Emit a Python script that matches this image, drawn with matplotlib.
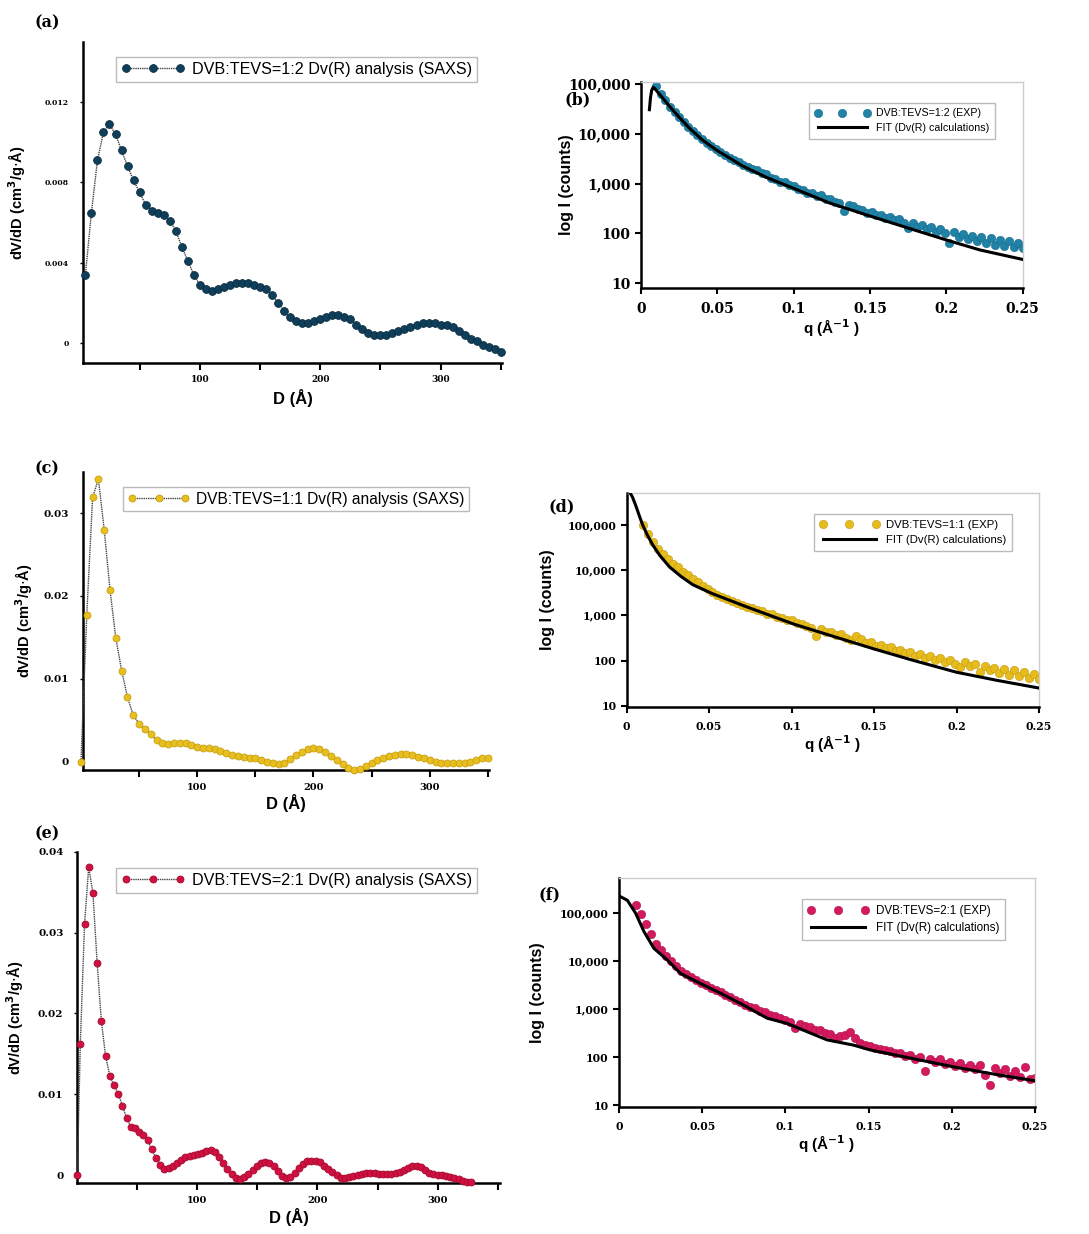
import numpy as np
import matplotlib
matplotlib.use("Agg")
import matplotlib.pyplot as plt
from matplotlib.ticker import FixedLocator, FuncFormatter

# ---------------- data ----------------
# (a) DVB:TEVS = 1:2 pore size distribution
D_a = [5, 10, 15, 20, 25, 30, 35, 40, 45, 50, 55, 60, 65, 70, 75, 80, 85, 90, 95, 100,
       105, 110, 115, 120, 125, 130, 135, 140, 145, 150, 155, 160, 165, 170, 175, 180,
       185, 190, 195, 200, 205, 210, 215, 220, 225, 230, 235, 240, 245, 250, 255, 260,
       265, 270, 275, 280, 285, 290, 295, 300, 305, 310, 315, 320, 325, 330, 335, 340,
       345, 350]
dv_a = [0.0034, 0.0065, 0.0091, 0.0105, 0.0109, 0.0104, 0.0096, 0.0088, 0.0081, 0.0075,
        0.0069, 0.0066, 0.0065, 0.0064, 0.0061, 0.0056, 0.0048, 0.0041, 0.0034, 0.0029,
        0.0027, 0.0026, 0.0027, 0.0028, 0.0029, 0.0030, 0.0030, 0.0030, 0.0029, 0.0028,
        0.0027, 0.0024, 0.0020, 0.0016, 0.0013, 0.0011, 0.0010, 0.0010, 0.0011, 0.0012,
        0.0013, 0.0014, 0.0014, 0.0013, 0.0012, 0.0009, 0.0007, 0.0005, 0.0004, 0.0004,
        0.0004, 0.0005, 0.0006, 0.0007, 0.0008, 0.0009, 0.0010, 0.0010, 0.0010, 0.0009,
        0.0009, 0.0008, 0.0006, 0.0004, 0.0002, 0.0001, -0.0001, -0.0002, -0.0003, -0.00045]

# (c) DVB:TEVS = 1:1
D_c = [0, 5, 10, 15, 20, 25, 30, 35, 40, 45, 50, 55, 60, 65, 70, 75, 80, 85, 90, 95, 100,
       105, 110, 115, 120, 125, 130, 135, 140, 145, 150, 155, 160, 165, 170, 175, 180,
       185, 190, 195, 200, 205, 210, 215, 220, 225, 230, 235, 240, 245, 250, 255, 260,
       265, 270, 275, 280, 285, 290, 295, 300, 305, 310, 315, 320, 325, 330, 335, 340,
       345, 350]
dv_c = [0.0, 0.0177, 0.0319, 0.0341, 0.0280, 0.0207, 0.0149, 0.0110, 0.0078, 0.0056,
        0.0046, 0.0040, 0.0033, 0.0026, 0.0022, 0.0021, 0.0022, 0.0023, 0.0022, 0.0020,
        0.0018, 0.0016, 0.0016, 0.0015, 0.0013, 0.0011, 0.0008, 0.0007, 0.0006, 0.0005,
        0.0004, 0.0002, 0.0000, -0.0002, -0.0003, -0.0002, 0.0003, 0.0008, 0.0012, 0.0015,
        0.0016, 0.0015, 0.0012, 0.0007, 0.0002, -0.0003, -0.0008, -0.0010, -0.0009, -0.0005,
        -0.0001, 0.0002, 0.0005, 0.0007, 0.0008, 0.0009, 0.0009, 0.0008, 0.0006, 0.0004,
        0.0002, 0.0000, -0.0001, -0.0002, -0.0002, -0.0002, -0.0001, 0.0000, 0.0002, 0.0004,
        0.0005]

# (e) DVB:TEVS = 2:1
D_e = [0, 2.5, 6, 9.5, 13, 16.5, 20, 23.5, 27, 30.5, 34, 37.5, 41, 44.5, 48, 51.5, 55,
       58.5, 62, 65.5, 69, 72.5, 76, 79.5, 83, 86.5, 90, 93.5, 97, 100.5, 104, 107.5, 111,
       114.5, 118, 121.5, 125, 128.5, 132, 135.5, 139, 142.5, 146, 149.5, 153, 156.5, 160,
       163.5, 167, 170.5, 174, 177.5, 181, 184.5, 188, 191.5, 195, 198.5, 202, 205.5, 209,
       212.5, 216, 219.5, 223, 226.5, 230, 233.5, 237, 240.5, 244, 247.5, 251, 254.5, 258,
       261.5, 265, 268.5, 272, 275.5, 279, 282.5, 286, 289.5, 293, 296.5, 300, 303.5, 307,
       310.5, 314, 317.5, 321, 324.5, 328]
dv_e = [0.0, 0.0162, 0.0310, 0.0381, 0.0349, 0.0263, 0.0191, 0.0148, 0.0123, 0.0111,
        0.0101, 0.0086, 0.0071, 0.0060, 0.0058, 0.0053, 0.0050, 0.0043, 0.0032, 0.0021,
        0.0013, 0.0008, 0.0009, 0.0012, 0.0015, 0.0019, 0.0022, 0.0024, 0.0025, 0.0026,
        0.0028, 0.0030, 0.0031, 0.0029, 0.0022, 0.0015, 0.0008, 0.0001, -0.0004, -0.0005,
        -0.0002, 0.0002, 0.0007, 0.0012, 0.0015, 0.0016, 0.0015, 0.0011, 0.0005, -0.0001,
        -0.0004, -0.0002, 0.0003, 0.0009, 0.0014, 0.0017, 0.0018, 0.0018, 0.0016, 0.0012,
        0.0008, 0.0004, 0.0000, -0.0003, -0.0003, -0.0002, -0.0001, 0.0000, 0.0002, 0.0003,
        0.0003, 0.0003, 0.0002, 0.0002, 0.0002, 0.0002, 0.0003, 0.0004, 0.0006, 0.0009,
        0.0012, 0.0012, 0.0010, 0.0006, 0.0003, 0.0001, 0.0000, 0.0000, -0.0001, -0.0002,
        -0.0003, -0.0005, -0.0007, -0.0008, -0.0008]

# SAXS curves, q grid of the experimental points (1/A)
q_exp = [0.010, 0.013, 0.016, 0.019, 0.022, 0.025, 0.028, 0.031, 0.034, 0.037, 0.040,
         0.043, 0.046, 0.049, 0.052, 0.055, 0.058, 0.061, 0.064, 0.067, 0.070, 0.073,
         0.076, 0.079, 0.082, 0.085, 0.088, 0.091, 0.094, 0.097, 0.100, 0.103, 0.106,
         0.109, 0.112, 0.115, 0.118, 0.121, 0.124, 0.127, 0.130, 0.133, 0.136, 0.139,
         0.142, 0.145, 0.148, 0.151, 0.154, 0.157, 0.160, 0.163, 0.166, 0.169, 0.172,
         0.175, 0.178, 0.181, 0.184, 0.187, 0.190, 0.193, 0.196, 0.199, 0.202, 0.205,
         0.208, 0.211, 0.214, 0.217, 0.220, 0.223, 0.226, 0.229, 0.232, 0.235, 0.238,
         0.241, 0.244, 0.247, 0.250]

# log10 of intensity (counts)
logI_b = [4.95, 4.80, 4.67, 4.54, 4.43, 4.33, 4.23, 4.14, 4.05, 3.97, 3.90, 3.82, 3.76,
          3.70, 3.63, 3.58, 3.51, 3.47, 3.43, 3.37, 3.34, 3.30, 3.27, 3.21, 3.19, 3.12,
          3.10, 3.04, 3.03, 2.98, 2.95, 2.89, 2.88, 2.82, 2.82, 2.75, 2.77, 2.70, 2.69,
          2.64, 2.62, 2.46, 2.58, 2.56, 2.49, 2.47, 2.42, 2.44, 2.37, 2.38, 2.31, 2.33,
          2.27, 2.29, 2.22, 2.10, 2.21, 2.14, 2.18, 2.09, 2.13, 2.03, 2.08, 2.00, 1.80,
          2.03, 1.92, 1.98, 1.88, 1.95, 1.84, 1.92, 1.80, 1.90, 1.77, 1.86, 1.74, 1.84,
          1.72, 1.80, 1.70]
logI_d = [5.00, 4.80, 4.63, 4.47, 4.35, 4.24, 4.14, 4.06, 3.97, 3.90, 3.80, 3.73, 3.65,
          3.58, 3.52, 3.46, 3.41, 3.36, 3.32, 3.27, 3.24, 3.19, 3.16, 3.11, 3.09, 3.04,
          3.02, 2.96, 2.95, 2.89, 2.89, 2.82, 2.81, 2.76, 2.71, 2.55, 2.69, 2.63, 2.64,
          2.57, 2.58, 2.50, 2.46, 2.55, 2.47, 2.38, 2.40, 2.33, 2.34, 2.27, 2.29, 2.22,
          2.24, 2.16, 2.19, 2.11, 2.14, 2.06, 2.10, 2.01, 2.06, 1.97, 2.02, 1.92, 1.86,
          1.97, 1.88, 1.92, 1.75, 1.87, 1.80, 1.84, 1.73, 1.82, 1.68, 1.78, 1.65, 1.74,
          1.62, 1.70, 1.58]
logI_f = [5.16, 4.98, 4.76, 4.55, 4.35, 4.22, 4.10, 3.99, 3.90, 3.80, 3.73, 3.66, 3.60,
          3.55, 3.49, 3.44, 3.40, 3.35, 3.30, 3.24, 3.19, 3.14, 3.09, 3.05, 3.02, 2.96,
          2.93, 2.88, 2.85, 2.82, 2.78, 2.74, 2.60, 2.68, 2.64, 2.62, 2.57, 2.56, 2.50,
          2.48, 2.40, 2.45, 2.46, 2.52, 2.40, 2.30, 2.25, 2.23, 2.19, 2.18, 2.14, 2.13,
          2.08, 2.09, 2.02, 2.04, 1.97, 2.00, 1.72, 1.96, 1.90, 1.97, 1.86, 1.90, 1.82,
          1.88, 1.78, 1.84, 1.75, 1.83, 1.64, 1.43, 1.78, 1.68, 1.75, 1.60, 1.72, 1.58,
          1.80, 1.55, 1.57]

# fits (Dv(R) calculations)
q_fit_b = [0.0055, 0.0062, 0.0070, 0.0080, 0.0092, 0.011, 0.013, 0.0186, 0.025, 0.0317,
           0.040, 0.049, 0.0667, 0.0825, 0.0995, 0.1236, 0.150, 0.178, 0.200, 0.222, 0.250]
logfit_b = [4.48, 4.72, 4.87, 4.93, 4.90, 4.83, 4.76, 4.55, 4.33, 4.11, 3.88, 3.68, 3.35,
            3.12, 2.91, 2.61, 2.35, 2.08, 1.87, 1.67, 1.48]
q_fit_d = [0.0, 0.0016, 0.0035, 0.0057, 0.0077, 0.0097, 0.0125, 0.0158, 0.020, 0.026,
           0.033, 0.040, 0.052, 0.0726, 0.101, 0.123, 0.1496, 0.174, 0.200, 0.2246, 0.250]
logfit_d = [5.72, 5.74, 5.62, 5.41, 5.20, 5.00, 4.78, 4.56, 4.33, 4.07, 3.86, 3.68, 3.48,
            3.19, 2.81, 2.56, 2.26, 2.00, 1.74, 1.56, 1.39]
q_fit_f = [0.0, 0.005, 0.010, 0.015, 0.021, 0.029, 0.037, 0.049, 0.061, 0.075, 0.089,
           0.101, 0.113, 0.125, 0.141, 0.151, 0.181, 0.201, 0.225, 0.250]
logfit_f = [5.35, 5.26, 4.99, 4.61, 4.26, 4.02, 3.74, 3.53, 3.33, 3.08, 2.81, 2.70, 2.53,
            2.36, 2.25, 2.15, 1.94, 1.80, 1.65, 1.51]

W, H = 1089, 1234
fig = plt.figure(figsize=(W / 100, H / 100), dpi=100)
plt.rcParams['font.family'] = ['Liberation Sans', 'DejaVu Sans']

tickfont = dict(family='DejaVu Serif', weight='bold')
labfont = dict(family='Liberation Sans', weight='bold')


def add_ax(l, r, t, b):
    return fig.add_axes([l / W, 1 - b / H, (r - l) / W, (b - t) / H])


def fig_box(l, t):
    return (l / W, 1 - t / H)


def style_dist(ax, xlim, ylim, yticks, ylabs, tsize_y, tsize_x):
    ax.set_xlim(*xlim)
    ax.set_ylim(*ylim)
    for s in ['top', 'right']:
        ax.spines[s].set_visible(False)
    for s in ['left', 'bottom']:
        ax.spines[s].set_linewidth(1.8)
    ax.xaxis.set_major_locator(FixedLocator([50, 100, 150, 200, 250, 300, 350]))
    ax.xaxis.set_major_formatter(FuncFormatter(
        lambda v, p: '%d' % v if v in (100, 200, 300) else ''))
    ax.set_yticks(yticks)
    ax.set_yticklabels(ylabs)
    ax.tick_params(axis='x', direction='out', length=5, width=1.5, pad=4)
    ax.tick_params(axis='y', direction='out', length=2, width=1, pad=8)
    for lab in ax.get_xticklabels():
        lab.set(**tickfont, size=tsize_x)
    for lab in ax.get_yticklabels():
        lab.set(**tickfont, size=tsize_y)


def style_saxs(ax, ylim, tsize):
    ax.set_xlim(0, 0.25)
    ax.set_yscale('log')
    ax.set_ylim(*ylim)
    ax.spines['top'].set_color('#cccccc')
    ax.spines['right'].set_color('#cccccc')
    ax.spines['top'].set_linewidth(1)
    ax.spines['right'].set_linewidth(1)
    ax.spines['left'].set_linewidth(1.8)
    ax.spines['bottom'].set_linewidth(1.8)
    ax.set_xticks([0, 0.05, 0.1, 0.15, 0.2, 0.25])
    ax.set_xticklabels(['0', '0.05', '0.1', '0.15', '0.2', '0.25'])
    ax.set_yticks([10, 100, 1000, 10000, 100000])
    ax.set_yticklabels(['10', '100', '1,000', '10,000', '100,000'])
    ax.yaxis.set_minor_locator(FixedLocator([]))
    ax.tick_params(axis='both', direction='out', length=4, width=1.5)
    ax.tick_params(axis='x', pad=6)
    for lab in ax.get_xticklabels() + ax.get_yticklabels():
        lab.set(**tickfont, size=tsize)


def dist_plot(ax, D, dv, col, edge, label, legpos, ms, fsize):
    ax.plot(D, dv, linestyle=(0, (1, 0.6)), color='#444444', lw=1.0, marker='o', ms=ms,
            mfc=col, mec=edge, mew=0.6, label=label, clip_on=False, zorder=3)
    leg = ax.legend(loc='upper left', bbox_to_anchor=fig_box(*legpos),
                    bbox_transform=fig.transFigure, frameon=True, fancybox=False,
                    numpoints=3, handlelength=4.0, borderpad=0.3, handletextpad=0.4,
                    borderaxespad=0, prop=dict(family='Liberation Sans', size=fsize))
    leg.get_frame().set_edgecolor('#aaaaaa')
    leg.get_frame().set_linewidth(1.0)


def saxs_plot(ax, logI, qf, logf, col, edge, exp_lab, legpos, fsize):
    ax.plot(q_exp, 10 ** np.array(logI), linestyle='none', marker='o', ms=6.0,
            mfc=col, mec=edge, mew=0.4, label=exp_lab, zorder=2)
    ax.plot(qf, 10 ** np.array(logf), color='black', lw=2.2,
            label='FIT (Dv(R) calculations)', zorder=3)
    leg = ax.legend(loc='upper left', bbox_to_anchor=fig_box(*legpos),
                    bbox_transform=fig.transFigure, frameon=True, fancybox=False,
                    numpoints=3, handlelength=5.2, borderpad=0.5, handletextpad=0.6,
                    labelspacing=0.45, borderaxespad=0,
                    prop=dict(family='Liberation Sans', size=fsize))
    leg.get_frame().set_edgecolor('#aaaaaa')
    leg.get_frame().set_linewidth(1.0)


dv_label = 'dV/dD (cm$^\\mathbf{3}$/g$\\cdot$Å)'
q_label = 'q (Å$^{\\mathbf{-1}}$ )'

# (a)
ax_a = add_ax(83, 502, 42, 363)
dist_plot(ax_a, D_a, dv_a, '#0f3f5a', '#0a2c40', 'DVB:TEVS=1:2 Dv(R) analysis (SAXS)',
          (116, 57), 5.6, 11.6)
style_dist(ax_a, (3, 351), (-0.001, 0.015), [0, 0.004, 0.008, 0.012],
           ['0', '0.004', '0.008', '0.012'], 5.5, 6.5)
ax_a.set_xlabel('D (Å)', fontsize=12, labelpad=3, **labfont)
ax_a.set_ylabel(dv_label, fontsize=10.5, **labfont)
ax_a.yaxis.set_label_coords(-0.132, 0.5)

# (c)
ax_c = add_ax(82.7, 489, 471.7, 770)
dist_plot(ax_c, D_c, dv_c, '#e8bf1e', '#c9a010', 'DVB:TEVS=1:1 Dv(R) analysis (SAXS)',
          (123, 487), 5.0, 11.2)
style_dist(ax_c, (1.5, 351), (-0.001, 0.035), [0, 0.01, 0.02, 0.03],
           ['0', '0.01', '0.02', '0.03'], 7.5, 7)
ax_c.set_xlabel('D (Å)', fontsize=12, labelpad=2, **labfont)
ax_c.set_ylabel(dv_label, fontsize=10.5, **labfont)
ax_c.yaxis.set_label_coords(-0.117, 0.5)

# (e)
ax_e = add_ax(77.3, 500, 851.7, 1183.3)
dist_plot(ax_e, D_e, dv_e, '#cf1040', '#a50a30', 'DVB:TEVS=2:1 Dv(R) analysis (SAXS)',
          (116, 868), 5.0, 11.6)
style_dist(ax_e, (0, 352), (-0.001, 0.04), [0, 0.01, 0.02, 0.03, 0.04],
           ['0', '0.01', '0.02', '0.03', '0.04'], 7.5, 7)
ax_e.set_xlabel('D (Å)', fontsize=12, labelpad=2, **labfont)
ax_e.set_ylabel(dv_label, fontsize=10.5, **labfont)
ax_e.yaxis.set_label_coords(-0.121, 0.5)

# (b)
ax_b = add_ax(641, 1022.7, 81.7, 287.7)
saxs_plot(ax_b, logI_b, q_fit_b, logfit_b, '#1f82a6', '#176a88', 'DVB:TEVS=1:2 (EXP)',
          (809, 103), 7.7)
style_saxs(ax_b, (8.2, 1.1e5), 10)
ax_b.set_xlabel(q_label, fontsize=11, labelpad=1, **labfont)
ax_b.set_ylabel('log I (counts)', fontsize=11.5, **labfont)
ax_b.yaxis.set_label_coords(-0.175, 0.5)

# (d)
ax_d = add_ax(626.7, 1039, 492.7, 707.3)
saxs_plot(ax_d, logI_d, q_fit_d, logfit_d, '#e6bb1c', '#c49a10', 'DVB:TEVS=1:1 (EXP)',
          (814, 514), 8.2)
style_saxs(ax_d, (9.2, 5.2e5), 7.8)
ax_d.set_xlabel(q_label, fontsize=11, labelpad=1, **labfont)
ax_d.set_ylabel('log I (counts)', fontsize=11.5, **labfont)
ax_d.yaxis.set_label_coords(-0.174, 0.5)

# (f)
ax_f = add_ax(619, 1035, 878.3, 1107.3)
saxs_plot(ax_f, logI_f, q_fit_f, logfit_f, '#d41a5e', '#b0104a', 'DVB:TEVS=2:1 (EXP)',
          (802, 899), 8.4)
style_saxs(ax_f, (9.1, 5.2e5), 7.8)
ax_f.set_xlabel(q_label, fontsize=11, labelpad=1, **labfont)
ax_f.set_ylabel('log I (counts)', fontsize=11.5, **labfont)
ax_f.yaxis.set_label_coords(-0.178, 0.5)

# panel letters
letters = [('(a)', 35, 23), ('(b)', 564, 100), ('(c)', 35, 469),
           ('(d)', 548, 507), ('(e)', 35, 834), ('(f)', 538, 895)]
for txt, x, y in letters:
    fig.text(x / W, 1 - y / H, txt, family='DejaVu Serif', weight='bold', size=11.5,
             va='center', ha='left')

fig.savefig('out.png', dpi=100)
